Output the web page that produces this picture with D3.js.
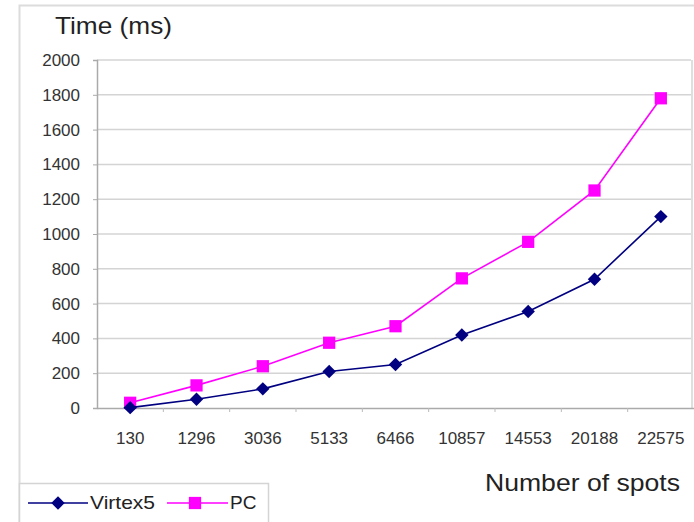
<!DOCTYPE html>
<html><head><meta charset="utf-8">
<script src="https://cdn.jsdelivr.net/npm/d3@7/dist/d3.min.js"></script>
<style>body{margin:0;background:#fff}svg{display:block}</style>
</head><body>
<script>
const categories = ["130","1296","3036","5133","6466","10857","14553","20188","22575"];
const virtex5 = [2,50,110,210,250,420,555,740,1100];
const pc = [30,130,240,375,470,745,955,1250,1780];
const yTicks = [0,200,400,600,800,1000,1200,1400,1600,1800,2000];

const W=694,H=522;
const svg=d3.select("body").append("svg").attr("width",W).attr("height",H);
const font="Arial, 'Liberation Sans', sans-serif";

// outer frame
svg.append("rect").attr("x",19.5).attr("y",5.5).attr("width",W).attr("height",H)
  .attr("fill","none").attr("stroke","#dcdcdc").attr("stroke-width",2);

const L=97,R=694,T=60,B=408;
const x=d3.scaleBand().domain(categories).range([L,R]);
const y=d3.scaleLinear().domain([0,2000]).range([B,T]);

// gridlines
svg.append("g").selectAll("line").data(yTicks.filter(d=>d>0)).join("line")
  .attr("x1",L).attr("x2",R-3).attr("y1",d=>y(d)).attr("y2",d=>y(d))
  .attr("stroke","#d4d4d4").attr("stroke-width",1.5);
svg.append("line").attr("x1",R-2).attr("x2",R-2).attr("y1",T).attr("y2",B)
  .attr("stroke","#d4d4d4").attr("stroke-width",1.5);

// y axis
const ya=svg.append("g").attr("transform",`translate(${L},0)`)
  .call(d3.axisLeft(y).tickValues(yTicks).tickFormat(d3.format("d")).tickSize(4).tickPadding(13));
ya.select(".domain").attr("stroke","#aaa").attr("stroke-width",1.5);
ya.selectAll(".tick line").attr("stroke","#aaa");
ya.selectAll("text").attr("font-family",font).attr("font-size",17).attr("fill","#333");

// x axis
const xa=svg.append("g").attr("transform",`translate(0,${B})`)
  .call(d3.axisBottom(x).tickSize(0).tickPadding(24));
xa.select(".domain").attr("stroke","#aaa").attr("stroke-width",1.5);
xa.selectAll("text").attr("font-family",font).attr("font-size",17).attr("fill","#333");
svg.append("g").selectAll("line").data(categories.slice(1)).join("line")
  .attr("x1",d=>x(d)).attr("x2",d=>x(d)).attr("y1",B).attr("y2",B+4)
  .attr("stroke","#bbb");

const cx=d=>x(d)+x.bandwidth()/2;

function series(vals,color,shape){
  const line=d3.line().x((d,i)=>cx(categories[i])).y(d=>y(d));
  svg.append("path").datum(vals).attr("d",line).attr("fill","none")
    .attr("stroke",color).attr("stroke-width",1.6);
  const sym=d3.symbol().type(d3.symbolSquare).size(shape==="diamond"?90:150);
  svg.append("g").selectAll("path").data(vals).join("path")
    .attr("d",sym)
    .attr("transform",(d,i)=>`translate(${cx(categories[i])},${y(d)})`+(shape==="diamond"?" rotate(45)":""))
    .attr("fill",color);
}
series(pc,"#ff00ff","square");
series(virtex5,"#000080","diamond");

// titles
svg.append("text").attr("x",55).attr("y",34).text("Time (ms)")
  .attr("font-family",font).attr("font-size",24).attr("fill","#222")
  .attr("textLength",117).attr("lengthAdjust","spacingAndGlyphs");
svg.append("text").attr("x",485).attr("y",491).text("Number of spots")
  .attr("font-family",font).attr("font-size",24).attr("fill","#222")
  .attr("textLength",195).attr("lengthAdjust","spacingAndGlyphs");

// legend
const lg=svg.append("g");
lg.append("rect").attr("x",19.5).attr("y",483.5).attr("width",249).attr("height",50)
  .attr("fill","#fff").attr("stroke","#d4d4d4").attr("stroke-width",1.5);
lg.append("line").attr("x1",28).attr("x2",88).attr("y1",503).attr("y2",503).attr("stroke","#000080").attr("stroke-width",1.6);
lg.append("path").attr("d",d3.symbol().type(d3.symbolSquare).size(90)).attr("transform","translate(58,503) rotate(45)").attr("fill","#000080");
lg.append("text").attr("x",90).attr("y",509).text("Virtex5").attr("font-family",font).attr("font-size",19).attr("fill","#222")
  .attr("textLength",65).attr("lengthAdjust","spacingAndGlyphs");
lg.append("line").attr("x1",167).attr("x2",228).attr("y1",503).attr("y2",503).attr("stroke","#ff00ff").attr("stroke-width",1.6);
lg.append("path").attr("d",d3.symbol().type(d3.symbolSquare).size(150)).attr("transform","translate(195,503)").attr("fill","#ff00ff");
lg.append("text").attr("x",230).attr("y",509).text("PC").attr("font-family",font).attr("font-size",19).attr("fill","#222");
</script>
</body></html>
